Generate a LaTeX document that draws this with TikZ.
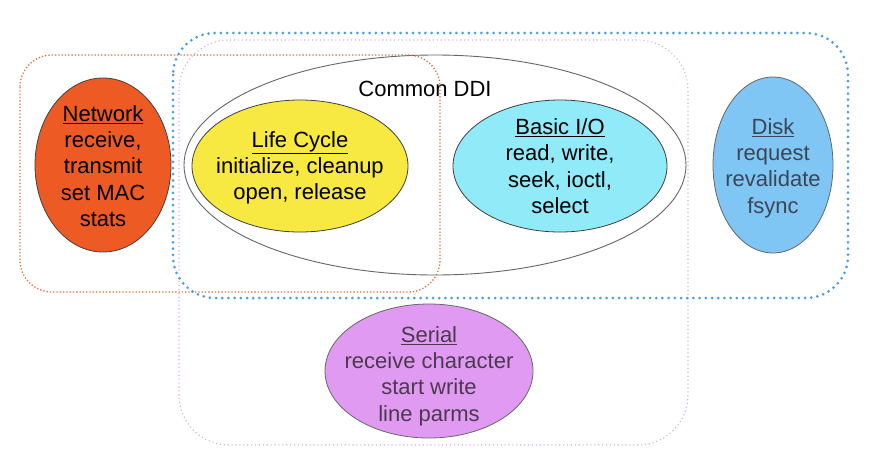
\documentclass[tikz,border=0pt]{standalone}
\usepackage{fontspec}
\setmainfont{Liberation Sans}
\usetikzlibrary{shapes.geometric}
\definecolor{netfill}{HTML}{EE5A24}
\definecolor{lcfill}{HTML}{F8E842}
\definecolor{iofill}{HTML}{90EAF8}
\definecolor{diskfill}{HTML}{80C6F4}
\definecolor{serfill}{HTML}{E19AF2}
\definecolor{netline}{HTML}{E07040}
\definecolor{blueline}{HTML}{4A9FE0}
\definecolor{pinkline}{HTML}{D8A8E8}
\definecolor{disktext}{HTML}{3A4656}
\definecolor{sertext}{HTML}{4A3A4E}
\tikzset{
  blob/.style={ellipse, draw=black!75, line width=0.8pt, inner sep=0pt},
  blobtext/.style={inner sep=0pt, align=center, font=\fontsize{22}{26.3}\selectfont},
}
\begin{document}
\begin{tikzpicture}[x=1pt,y=-1pt]
\useasboundingbox (0,0) rectangle (882,466);
\fill[white] (0,0) rectangle (882,466);
% common DDI ellipse
\node[ellipse, draw=black!60, line width=0.9pt, inner sep=0pt, minimum width=502pt, minimum height=220pt] (ddi) at (435,165) {};
\node[font=\fontsize{22}{26}\selectfont, anchor=base] (ddilabel) at (425,96) {Common DDI};
% ellipses
\node[blob, fill=netfill, minimum width=136pt, minimum height=174pt] (net) at (103,165) {};
\node[blobtext] (nettext) at ([yshift=-1pt]net.center)
  {\underline{Network}\\receive,\\transmit\\set MAC\\stats};
\node[blob, fill=lcfill, minimum width=216pt, minimum height=132pt] (lc) at (300,166) {};
\node[blobtext] (lctext) at ([yshift=-2pt]lc.center)
  {\underline{Life Cycle}\\initialize, cleanup\\open, release};
\node[blob, fill=iofill, minimum width=214pt, minimum height=132pt] (io) at (560,166) {};
\node[blobtext] (iotext) at (io.center)
  {\underline{Basic I/O}\\read, write,\\seek, ioctl,\\select};
\node[blob, fill=diskfill, draw=black!60, minimum width=120pt, minimum height=176pt] (disk) at (773,165) {};
\node[blobtext, text=disktext] (disktext) at ([yshift=-3pt]disk.center)
  {\underline{Disk}\\request\\revalidate\\fsync};
\node[blob, fill=serfill, draw=black!60, minimum width=208pt, minimum height=134pt] (ser) at (429,371) {};
\node[blobtext, text=sertext] (sertext) at ([yshift=-5pt]ser.center)
  {\underline{Serial}\\receive character\\start write\\line parms};
% group outlines
\draw[netline, line width=1.3pt, dash pattern=on 1.3pt off 2pt, rounded corners=32pt]
  (20,55) rectangle (440,292);
\draw[pinkline, line width=1.1pt, dash pattern=on 1.1pt off 2.8pt, rounded corners=50pt]
  (179,40) rectangle (688,445);
\draw[blueline, line width=3pt, line cap=round, dash pattern=on 0pt off 6.2pt, rounded corners=42pt]
  (173,33) rectangle (848,298);
\end{tikzpicture}
\end{document}
